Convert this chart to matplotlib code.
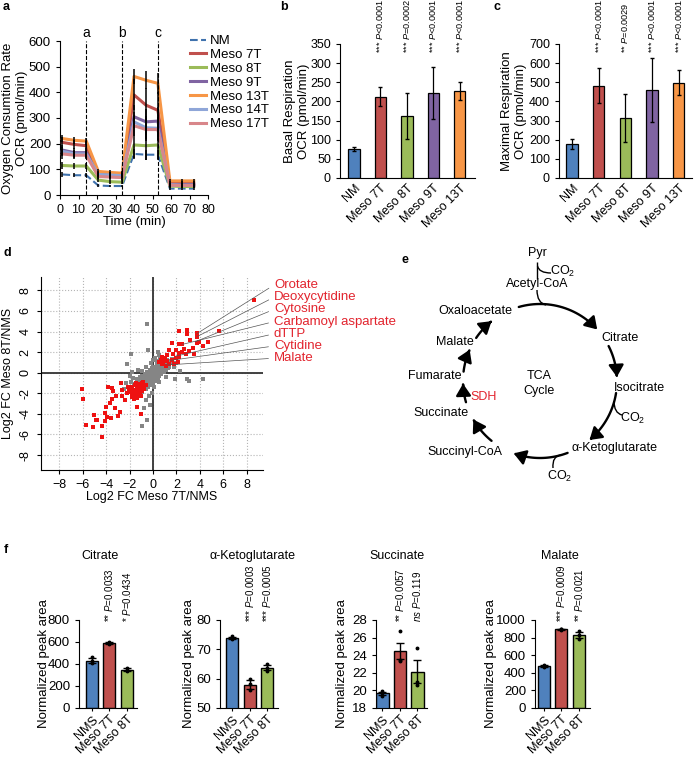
import numpy as np
import matplotlib
matplotlib.use("Agg")
import matplotlib.pyplot as plt
from matplotlib.patches import FancyArrowPatch, PathPatch
from matplotlib.path import Path

plt.rcParams['font.family'] = ['Liberation Sans', 'DejaVu Sans']
plt.rcParams['mathtext.fontset'] = 'custom'
plt.rcParams['mathtext.rm'] = 'Liberation Sans'
plt.rcParams['mathtext.it'] = 'Liberation Sans:italic'
plt.rcParams['font.size'] = 9
plt.rcParams['axes.linewidth'] = 0.8

# ---- panel a: OCR time course ----
time_min = [1.3, 7.8, 14.2, 20.7, 27.1, 33.6, 40.0, 46.5, 52.9, 59.4, 65.8, 72.3]
injections = [14.2, 33.6, 52.9]
injection_labels = ['a', 'b', 'c']
ocr_names = ['NM', 'Meso 7T', 'Meso 8T', 'Meso 9T', 'Meso 13T', 'Meso 14T', 'Meso 17T']
ocr_values = [
    [80, 77, 77, 37, 35, 35, 160, 157, 157, 25, 25, 25],
    [205, 197, 192, 85, 80, 78, 390, 350, 330, 45, 45, 45],
    [115, 113, 113, 58, 52, 50, 195, 192, 195, 35, 33, 33],
    [175, 165, 165, 75, 72, 70, 305, 285, 288, 40, 40, 40],
    [220, 213, 210, 92, 88, 85, 462, 447, 435, 55, 55, 55],
    [170, 160, 160, 80, 78, 75, 285, 262, 260, 40, 38, 38],
    [160, 155, 155, 72, 70, 68, 270, 255, 255, 38, 37, 37],
]
ocr_err = [
    [10, 8, 8, 5, 5, 5, 20, 20, 20, 5, 5, 5],
    [20, 18, 18, 10, 10, 10, 60, 65, 70, 8, 8, 8],
    [12, 10, 10, 8, 8, 8, 50, 55, 55, 6, 6, 6],
    [20, 18, 18, 10, 10, 10, 45, 50, 55, 8, 8, 8],
    [15, 14, 14, 10, 10, 10, 30, 35, 40, 8, 8, 8],
    [18, 16, 16, 10, 10, 10, 40, 45, 45, 8, 8, 8],
    [18, 16, 16, 10, 10, 10, 40, 45, 45, 8, 8, 8],
]
ocr_colors = ['#3f72ad', '#c0504d', '#9bbb59', '#8064a2', '#f79646', '#8fa6d8', '#d8868a']

# ---- panels b, c ----
groups_bc = ['NM', 'Meso 7T', 'Meso 8T', 'Meso 9T', 'Meso 13T']
basal = [75, 212, 163, 222, 228]
basal_err = [5, 25, 60, 68, 24]
basal_p = ['*** $\\mathit{P}$<0.0001', '*** $\\mathit{P}$=0.0002', '*** $\\mathit{P}$<0.0001', '*** $\\mathit{P}$<0.0001']
maximal = [178, 483, 313, 460, 498]
maximal_err = [25, 90, 125, 165, 65]
maximal_p = ['*** $\\mathit{P}$<0.0001', '** $\\mathit{P}$=0.0029', '*** $\\mathit{P}$<0.0001', '*** $\\mathit{P}$<0.0001']
bar_colors = ['#4f81bd', '#c0504d', '#9bbb59', '#8064a2', '#f79646']

# ---- panel d: log2 fold changes ----
gray_pts = [
    (-1.2, -1.0), (-1.0, -0.7), (-0.8, -0.9), (-0.6, -0.5), (-0.5, -0.8), (-0.4, -0.3), (-0.3, -0.6), (-0.2, -0.1),
    (-0.1, -0.4), (0.0, 0.1), (0.1, -0.2), (0.2, 0.3), (0.3, 0.0), (0.4, 0.5), (0.5, 0.2), (0.6, 0.7), (0.7, 0.4),
    (0.8, 0.9), (0.9, 0.6), (1.0, 1.0), (1.1, 0.7), (1.2, 1.2), (-0.9, -0.3), (-0.7, -0.1), (-0.5, 0.1), (-0.3, 0.3),
    (-0.1, 0.5), (0.1, 0.6), (0.3, 0.8), (0.5, 1.0), (-1.1, -1.4), (-0.9, -1.2), (-0.7, -1.3), (-0.5, -1.1),
    (-0.3, -0.9), (-0.1, -0.8), (0.1, -0.6), (0.3, -0.4), (0.5, -0.3), (0.7, -0.1), (0.9, 0.1), (1.1, 0.3),
    (1.3, 0.5), (1.5, 0.9), (-1.4, -0.6), (-1.6, -1.1), (-1.8, -1.5), (-1.3, -1.7), (-0.2, 0.9), (0.0, 1.2),
    (0.2, 1.4), (0.0, 0.6), (-0.2, 0.2), (-0.4, -0.1), (-0.6, -0.2), (-0.8, -0.5), (-1.0, -0.4), (0.4, 0.2),
    (0.6, 0.4), (0.8, 0.3), (1.0, 0.5), (1.2, 0.8), (1.4, 1.1), (1.6, 1.3), (-1.5, -1.9), (-1.2, -2.1),
    (-0.9, -1.9), (-0.6, -1.6), (-0.4, -1.4), (-0.2, -1.2), (0.0, -1.0), (0.2, -0.8), (0.4, -0.7), (-2.0, -0.3),
    (-1.7, -0.5), (-2.3, -1.0), (-1.9, -0.9), (-2.5, -1.6), (-2.2, -2.0), (0.6, 1.3), (0.8, 1.5), (0.3, 1.1),
    (1.8, 0.6), (2.0, 0.9), (2.3, 0.2), (-1.9, 1.8), (-2.25, 0.8), (-0.5, 4.7), (-0.4, 2.2), (0.4, 2.0),
    (0.5, 1.7), (1.9, -0.65), (2.9, -0.65), (3.1, -0.8), (4.3, -0.65), (-0.5, -4.6), (-0.9, -5.15), (-0.8, -3.45),
    (-0.3, -3.1), (-1.3, 0.3), (-1.8, 0.1), (-1.1, -0.4), (1.1, -0.45), (0.5, -0.9), (0.1, -1.35), (-0.1, -2.0),
    (-0.35, -2.3), (-0.6, -2.65), (1.4, 0.6), (-0.6, 0.6), (-0.9, 0.2), (0.2, -0.1), (-0.1, 0.2), (0.15, 0.35),
    (-0.35, -0.45), (-0.65, -0.75), (0.65, 0.15), (0.35, 0.65), (-0.05, -0.15),
]
red_pts = [
    (8.66, 7.1), (5.66, 4.06), (2.23, 4.06), (2.94, 4.19), (2.94, 3.8), (3.8, 3.87), (3.8, 3.5), (3.94, 3.0),
    (3.8, 2.84), (4.66, 3.0), (4.29, 2.58), (1.6, 2.9), (2.23, 2.77), (2.5, 2.77), (3.14, 3.2), (1.94, 2.19),
    (1.37, 2.19), (2.5, 2.03), (2.8, 1.8), (3.09, 2.13), (3.5, 1.8), (2.23, 1.87), (1.71, 1.8), (1.23, 1.68),
    (0.8, 1.55), (1.03, 1.39), (0.66, 1.23), (0.51, 1.06), (0.86, 1.06), (1.23, 1.16), (1.6, 1.23), (2.0, 1.39),
    (2.17, 1.06), (1.8, 0.84), (1.37, 0.84), (0.74, 0.84), (1.09, 0.65), (2.23, 1.55), (2.66, 2.35), (3.43, 2.45),
    (-6.06, -1.61), (-5.97, -2.55), (-5.77, -5.06), (-5.06, -4.1), (-4.91, -4.58), (-4.77, -4.58), (-5.14, -5.29),
    (-4.4, -5.16), (-4.34, -6.26), (-4.11, -3.87), (-3.91, -4.32), (-3.63, -4.42), (-4.11, -4.65), (-3.83, -1.35),
    (-3.54, -1.52), (-3.4, -1.74), (-3.2, -2.26), (-3.49, -2.58), (-3.71, -2.97), (-4.06, -3.35), (-3.26, -3.45),
    (-2.97, -4.19), (-2.86, -3.77), (-2.77, -1.03), (-2.63, -1.68), (-2.63, -2.26), (-2.4, -2.65), (-2.06, -1.68),
    (-2.11, -1.35), (-1.91, -1.84), (-1.77, -1.42), (-1.63, -1.68), (-1.77, -2.06), (-1.49, -2.26), (-1.63, -2.58),
    (-1.34, -3.29), (-1.06, -4.0), (-1.43, -1.23), (-1.26, -1.55), (-1.14, -1.87), (-0.97, -1.42), (-0.91, -1.03),
    (-0.77, -1.61), (-1.06, -2.26), (-1.34, -2.48), (-1.77, -2.32), (-2.2, -2.0), (-1.54, -1.84), (-1.2, -1.68),
    (-0.83, -0.87), (-0.63, -1.19), (-1.49, -1.03), (-1.91, -1.52), (-1.3, -1.3), (-1.1, -1.1), (-0.9, -1.2),
    (-1.4, -1.6), (-1.2, -1.8), (-1.0, -1.6), (-0.8, -1.4), (-1.6, -1.9), (-1.5, -1.2), (-1.7, -1.7), (-1.3, -2.0),
    (-1.1, -2.2), (-0.9, -1.8), (-1.8, -2.1), (-2.0, -1.9),
]
gray_x = [p[0] for p in gray_pts]
gray_y = [p[1] for p in gray_pts]
red_x = [p[0] for p in red_pts]
red_y = [p[1] for p in red_pts]
leader_labels = ['Orotate', 'Deoxycytidine', 'Cytosine', 'Carbamoyl aspartate', 'dTTP', 'Cytidine', 'Malate']
leader_x = [3.75, 3.75, 3.6, 2.5, 1.9, 1.5, 1.1]
leader_y = [3.8, 3.5, 3.0, 2.75, 1.6, 1.2, 0.75]

# ---- panel f: TCA metabolites ----
f_groups = ['NMS', 'Meso 7T', 'Meso 8T']
metabolites = ['Citrate', 'α-Ketoglutarate', 'Succinate', 'Malate']
f_means = [[430, 592, 350], [73.9, 58.0, 63.8], [19.65, 24.5, 22.1], [475, 893, 830]]
f_sems = [[25, 8, 15], [0.4, 1.4, 1.0], [0.2, 0.9, 1.3], [12, 5, 30]]
f_points = [
    [[405, 425, 460], [585, 593, 598], [338, 350, 362]],
    [[73.4, 73.9, 74.4], [56.0, 58.2, 59.8], [62.6, 63.8, 65.0]],
    [[19.4, 19.7, 19.9], [23.4, 23.3, 26.8], [20.6, 21.0, 24.8]],
    [[462, 475, 490], [888, 893, 898], [785, 835, 870]],
]
f_pvals = [
    ['** $\\mathit{P}$=0.0033', '* $\\mathit{P}$=0.0434'],
    ['*** $\\mathit{P}$=0.0003', '*** $\\mathit{P}$=0.0005'],
    ['** $\\mathit{P}$=0.0057', '$\\mathit{ns}$ $\\mathit{P}$=0.119'],
    ['*** $\\mathit{P}$=0.0009', '** $\\mathit{P}$=0.0021'],
]
f_yticks = [[0, 200, 400, 600, 800], [50, 60, 70, 80], [18, 20, 22, 24, 26, 28], [0, 200, 400, 600, 800, 1000]]
f_colors = ['#4f81bd', '#c0504d', '#9bbb59']

W, H = 695, 757
fig = plt.figure(figsize=(W / 100, H / 100), dpi=100)


def px_axes(l, t, r, b):
    return fig.add_axes([l / W, 1 - b / H, (r - l) / W, (b - t) / H])


def px_text(x, y, s, **kw):
    fig.text(x / W, 1 - y / H, s, **kw)


def clean(ax):
    ax.spines['top'].set_visible(False)
    ax.spines['right'].set_visible(False)


# panel letters
for lab, (x, y) in zip('abcdef', [(3, 7), (280, 7), (493, 7), (3, 253), (401, 260), (4, 550)]):
    px_text(x, y, lab, fontsize=9, fontweight='bold', ha='left', va='center')

# ---------- a ----------
ax = px_axes(60, 41, 208, 195)
clean(ax)
for k in range(len(ocr_names)):
    ls = '--' if k == 0 else '-'
    lw = 1.5 if k == 0 else 2.2
    ax.plot(time_min, ocr_values[k], color=ocr_colors[k], lw=lw, ls=ls, label=ocr_names[k], zorder=3)
    ax.errorbar(time_min, ocr_values[k], yerr=ocr_err[k], fmt='none', ecolor='black', elinewidth=1.1, capsize=0, zorder=4)
for t, lab in zip(injections, injection_labels):
    ax.plot([t, t], [0, 600], color='black', ls='--', lw=0.8, clip_on=False, zorder=5)
    ax.text(t, 603, lab, ha='center', va='bottom', fontsize=10)
ax.set_xlim(0, 80)
ax.set_ylim(0, 600)
ax.set_xticks(range(0, 81, 10))
ax.set_yticks(range(0, 601, 100))
ax.tick_params(axis='y', labelsize=9.5, length=3)
ax.tick_params(axis='x', labelsize=9, length=3)
ax.set_xlabel('Time (min)', fontsize=9.5)
ax.xaxis.set_label_coords(0.5, -0.135)
ax.set_ylabel('Oxygen Consumtion Rate\nOCR (pmol/min)', fontsize=9.5)
ax.yaxis.set_label_coords(-0.215, 0.5)
ax.legend(frameon=False, loc='upper left', bbox_to_anchor=(190 / W, 1 - 35 / H), bbox_transform=fig.transFigure,
          handlelength=1.2, handletextpad=0.3, labelspacing=0.12, fontsize=9.5, borderaxespad=0, borderpad=0)

# ---------- b, c ----------
for (l, r, xl), vals, errs, pv, ylab, ymax, ystep, pfrac, lab_x in [
        ((340, 475, (-0.53, 4.57)), basal, basal_err, basal_p, 'Basal Respiration\nOCR (pmol/min)', 350, 50, 0.93, -0.22),
        ((559, 692, (-0.49, 4.5)), maximal, maximal_err, maximal_p, 'Maximal Respiration\nOCR (pmol/min)', 700, 100, 0.93, -0.24)]:
    ax = px_axes(l, 44, r, 178)
    clean(ax)
    xs = np.arange(len(groups_bc))
    ax.bar(xs, vals, width=0.42, color=bar_colors, edgecolor='black', lw=0.9, zorder=2)
    ax.errorbar(xs, vals, yerr=errs, fmt='none', ecolor='black', elinewidth=0.9, capsize=1.5, zorder=3)
    for i, s in enumerate(pv):
        ax.text(i + 1, pfrac, s, transform=ax.get_xaxis_transform(), rotation=90, ha='center', va='bottom',
                fontsize=6.6, clip_on=False)
    ax.set_xlim(*xl)
    ax.set_ylim(0, ymax)
    ax.set_yticks(range(0, ymax + 1, ystep))
    ax.set_xticks(xs)
    ax.set_xticklabels(groups_bc, rotation=45, ha='right', rotation_mode='anchor', fontsize=9)
    ax.tick_params(axis='x', length=0, pad=3)
    ax.tick_params(axis='y', length=3, labelsize=9)
    ax.set_ylabel(ylab, fontsize=9.5)
    ax.yaxis.set_label_coords(lab_x, 0.5)

# ---------- d ----------
ax = px_axes(40.7, 277, 263, 470)
clean(ax)
ax.set_xlim(-9.6, 9.4)
ax.set_ylim(-9.45, 9.3)
ax.set_xticks(range(-8, 9, 2))
ax.set_yticks(range(-8, 9, 2))
ax.set_yticklabels([str(v) for v in range(-8, 9, 2)], rotation=90, va='center')
ax.grid(True, ls=':', color='#b5b5b5', lw=0.8)
ax.set_axisbelow(True)
ax.axhline(0, color='#333333', lw=1.3, zorder=1)
ax.axvline(0, color='#333333', lw=1.3, zorder=1)
ax.scatter(gray_x, gray_y, s=7, marker='s', color='#858585', linewidths=0, zorder=2)
ax.scatter(red_x, red_y, s=7, marker='s', color='#ee1111', linewidths=0, zorder=3)
ax.tick_params(labelsize=9, length=3)
ax.set_xlabel('Log2 FC Meso 7T/NMS', fontsize=9)
ax.xaxis.set_label_coords(0.5, -0.11)
ax.set_ylabel('Log2 FC Meso 8T/NMS', fontsize=9)
ax.yaxis.set_label_coords(-0.12, 0.5)
for i, lab in enumerate(leader_labels):
    fx, fy = 274 / W, 1 - (285 + 12.2 * i) / H
    ax.annotate(lab, xy=(leader_x[i], leader_y[i]), xycoords='data', xytext=(fx, fy), textcoords='figure fraction',
                ha='left', va='center', color='#e2242e', fontsize=9.5,
                arrowprops=dict(arrowstyle='-', color='#555555', lw=0.5, relpos=(0, 0.5), shrinkA=2, shrinkB=0))

# ---------- e: TCA cycle ----------
ax = px_axes(405, 245, 695, 500)
ax.set_xlim(405, 695)
ax.set_ylim(500, 245)
ax.axis('off')
cx, cy, rad = 540, 381, 77
tca_arcs = [(106, 42), (27, 3), (-9, -50), (-69, -110), (-129, -150), (-164, -178), (173, 156), (146, 129)]
for a0, a1 in tca_arcs:
    ang = np.radians(np.linspace(a0, a1, 30))
    verts = np.column_stack([cx + rad * np.cos(ang), cy - rad * np.sin(ang)])
    ax.add_patch(FancyArrowPatch(path=Path(verts), arrowstyle='-|>,head_length=0.55,head_width=0.35',
                                 mutation_scale=13, lw=1.7, color='black'))
for verts in [[(537, 262), (537, 279)],
              [(537.5, 266), (539, 273), (551, 273)],
              [(537, 290), (537, 303), (546, 305)],
              [(614, 401), (614, 413), (622, 415)],
              [(561, 455), (552, 456), (553, 468)]]:
    codes = [Path.MOVETO, Path.LINETO] if len(verts) == 2 else [Path.MOVETO, Path.CURVE3, Path.CURVE3]
    ax.add_patch(PathPatch(Path(verts, codes), fill=False, lw=1.0, color='black'))
co2 = 'CO$_\\mathrm{2}$'
tca_text = [('Pyr', 537, 253), ('Acetyl-CoA', 537, 284), (co2, 563, 271), ('Oxaloacetate', 475, 311),
            ('Citrate', 620, 338), ('Isocitrate', 639, 388), (co2, 633, 418), ('α-Ketoglutarate', 614, 448),
            (co2, 560, 476), ('Succinyl-CoA', 465, 452), ('Succinate', 441, 413), ('Fumarate', 435, 376),
            ('Malate', 455, 342), ('TCA', 539, 376), ('Cycle', 539, 391)]
for s, x, y in tca_text:
    ax.text(x, y, s, ha='center', va='center', fontsize=9)
ax.text(484, 397, 'SDH', ha='center', va='center', fontsize=9, color='#e2242e')

# ---------- f ----------
f_layout = [(79, (-0.74, 2.57), -0.5), (220, (-0.71, 2.6), -0.43), (376, (-0.37, 2.54), -0.55), (535, (-0.51, 2.63), -0.69)]
title_x = [100, 252, 397, 560]
for m in range(4):
    left, xl, lab_x = f_layout[m]
    right = left + (xl[1] - xl[0]) * 17.5
    ax = px_axes(left, 620, right, 708)
    clean(ax)
    xs = np.arange(3)
    ax.bar(xs, f_means[m], width=0.69, color=f_colors, edgecolor='black', lw=1.0, zorder=2)
    ax.errorbar(xs, f_means[m], yerr=f_sems[m], fmt='none', ecolor='black', elinewidth=1.0, capsize=3, zorder=3)
    for i in range(3):
        ax.plot([i] * 3, f_points[m][i], 'o', color='black', ms=1.8, zorder=4, clip_on=False)
    yt = f_yticks[m]
    ax.set_ylim(yt[0], yt[-1])
    ax.set_yticks(yt)
    ax.set_xlim(*xl)
    ax.set_xticks(xs)
    ax.set_xticklabels(f_groups, rotation=45, ha='right', rotation_mode='anchor', fontsize=9)
    ax.tick_params(axis='x', length=2, pad=2)
    ax.tick_params(axis='y', length=3, labelsize=9.5)
    for i, s in enumerate(f_pvals[m]):
        ax.text(i + 1, 0.98, s, transform=ax.get_xaxis_transform(), rotation=90, ha='center', va='bottom',
                fontsize=7, clip_on=False)
    ax.set_ylabel('Normalized peak area', fontsize=9.5)
    ax.yaxis.set_label_coords(lab_x, 0.5)
    px_text(title_x[m], 556, metabolites[m], ha='center', va='center', fontsize=9)

fig.savefig('out.png', dpi=100)
